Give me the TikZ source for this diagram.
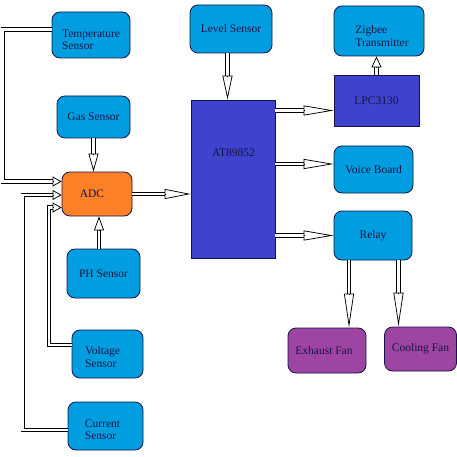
\documentclass[tikz,border=0pt]{standalone}
\usepackage{fontspec}
\setmainfont{Liberation Serif}
\usetikzlibrary{arrows.meta,calc}
\definecolor{sblue}{RGB}{0,158,224}
\definecolor{cblue}{RGB}{62,66,204}
\definecolor{aorange}{RGB}{253,128,40}
\definecolor{fpurple}{RGB}{158,68,162}
\definecolor{ink}{RGB}{20,20,70}
\tikzset{
  shaft/.style={draw=black, double=white, double distance=2.6pt, line width=0.75pt, line join=miter},
  bhd/.style={draw=black, line width=0.75pt, -{Triangle[open,length=#1pt,width=10pt]}},
  box/.style={draw=ink, line width=0.8pt, inner sep=0pt, text=ink,
    font=\fontsize{11.5}{13.5}\selectfont, align=left},
  sbox/.style={box, fill=sblue, rounded corners=8pt},
  cbox/.style={box, fill=cblue},
  abox/.style={box, fill=aorange, rounded corners=8pt},
  fbox/.style={box, fill=fpurple, rounded corners=8pt},
  lbl/.style={text=ink, font=\fontsize{11.5}{13.5}\selectfont, inner sep=0pt}
}
\newcommand\barrow[3][20]{%
  \draw[shaft] (#2) -- ($(#3)!#1pt!(#2)$);
  \draw[bhd=#1] ($(#3)!#1pt!(#2)$) -- (#3);}
\newcommand\twolines[3]{\raisebox{-#1}[\height][\depth]{\renewcommand\arraystretch{0.92}\begin{tabular}{@{}l@{}}#2\\#3\end{tabular}}}
\begin{document}
\begin{tikzpicture}[x=1pt,y=-1pt]
\fill[white] (0,0) rectangle (457,457);
\useasboundingbox (0,0) rectangle (457,457);
% sensors
\node[sbox, minimum width=78pt, minimum height=46pt] (temp) at (91,35) {\twolines{6pt}{Temperature}{Sensor}};
\node[sbox, minimum width=73pt, minimum height=42pt] (gas) at (93.5,117) {Gas Sensor};
\node[abox, minimum width=70pt, minimum height=44pt] (adc) at (97,194) {ADC\hspace{10pt}};
\node[sbox, minimum width=73pt, minimum height=49pt] (ph) at (103.5,273.5) {PH Sensor};
\node[sbox, minimum width=71pt, minimum height=48pt] (volt) at (107.5,354) {\twolines{4.5pt}{Voltage}{Sensor}\hspace{10pt}};
\node[sbox, minimum width=75pt, minimum height=48pt] (curr) at (105.5,426) {\twolines{5pt}{Current}{Sensor}\hspace{6pt}};
\node[sbox, minimum width=82pt, minimum height=48pt] (level) at (231,29) {Level Sensor};
\node[cbox, minimum width=84pt, minimum height=158pt] (at) at (233,179) {};
\node[lbl] (attext) at (233.5,153) {AT89852};
\node[sbox, minimum width=90pt, minimum height=50pt] (zig) at (379,31) {\hspace{6pt}\twolines{6.5pt}{Zigbee}{Transmitter}};
\node[cbox, minimum width=85pt, minimum height=51pt] (lpc) at (376.5,100.5) {LPC3130};
\node[sbox, minimum width=79pt, minimum height=47pt] (voice) at (373.5,169.5) {\raisebox{-3pt}{Voice Board}};
\node[sbox, minimum width=78pt, minimum height=49pt] (relay) at (373,235.5) {Relay};
\node[fbox, minimum width=78pt, minimum height=45pt] (exh) at (327,350.5) {Exhaust Fan\hspace{6pt}};
\node[fbox, minimum width=72pt, minimum height=44pt] (cool) at (420.5,349) {Cooling Fan};
% coordinates
\coordinate (tin) at ([yshift=12.5pt]adc.west);
\coordinate (cin) at ([yshift=-1pt]adc.west);
\coordinate (vin) at ([yshift=-13.5pt]adc.west);
\coordinate (phout) at ([xshift=-4.5pt]ph.north);
\coordinate (lvout) at ([xshift=-3.5pt]level.south);
\coordinate (lpcin) at ([yshift=-10pt]lpc.west);
\coordinate (vcin) at ([yshift=5.5pt]voice.west);
\coordinate (exin) at ([xshift=22pt]exh.north);
\coordinate (clin) at ([xshift=-22pt]cool.north);
% sensor lines into ADC
\draw[shaft] ([yshift=5.5pt]temp.west) -- ++(-49,0) |- ($(tin)+(-9,0)$);
\draw[bhd=9] ($(tin)+(-9,0)$) -- (tin);
\draw[shaft] ([yshift=-4pt]curr.west) -- ++(-45,0) |- ($(cin)+(-9,0)$);
\draw[bhd=9] ($(cin)+(-9,0)$) -- (cin);
\draw[shaft] ([yshift=9pt]volt.west) -- ++(-22.5,0) |- ($(vin)+(-9,0)$);
\draw[bhd=9] ($(vin)+(-9,0)$) -- (vin);
\barrow[18]{gas.south}{gas.south |- adc.north}
\barrow[14]{phout}{phout |- adc.south}
% controller
\barrow[26]{adc.east}{adc.east -| at.west}
\barrow[24]{lvout}{lvout |- at.north}
\barrow[30]{at.east |- lpcin}{lpcin}
\barrow[30]{at.east |- vcin}{vcin}
\barrow[30]{at.east |- relay.west}{relay.west}
\barrow[11]{lpc.north}{lpc.north |- zig.south}
\barrow[34]{relay.south -| exin}{exin}
\barrow[34]{relay.south -| clin}{clin}
\end{tikzpicture}
\end{document}
